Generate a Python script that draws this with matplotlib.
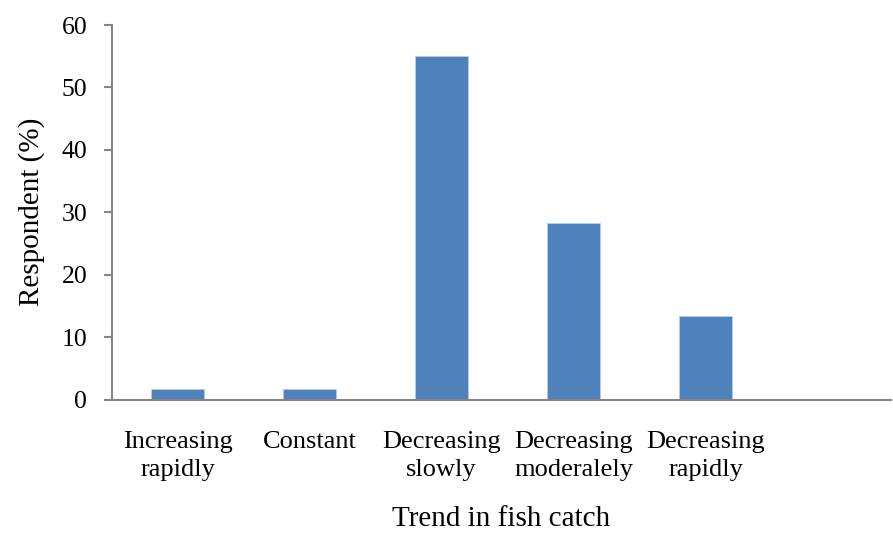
import matplotlib
matplotlib.use("Agg")
import matplotlib.pyplot as plt

categories = ["Increasing\nrapidly", "Constant", "Decreasing\nslowly",
              "Decreasing\nmoderalely", "Decreasing\nrapidly"]
values = [1.7, 1.7, 55.0, 28.3, 13.3]
yticks = [0, 10, 20, 30, 40, 50, 60]

plt.rcParams['font.family'] = ['Liberation Serif', 'DejaVu Serif']

W, H = 893, 534
fig = plt.figure(figsize=(W / 100, H / 100), dpi=100)
ax = fig.add_axes([111.5 / W, 1 - 399.5 / H, (891 - 111.5) / W, (399.5 - 25) / H])

x = list(range(len(categories)))
ax.bar(x, values, width=0.4, color='#4F81BD', edgecolor='#B9CDE5', linewidth=0.6, zorder=2)

ax.set_xlim(-0.5, (891 - 111.5) / 132 - 0.5)
ax.set_ylim(0, 60)
ax.set_yticks(yticks)
ax.set_yticklabels([str(v) for v in yticks], fontsize=18.5)
ax.set_xticks(x)
ax.set_xticklabels(categories, fontsize=19, linespacing=1.3)

for s in ['top', 'right']:
    ax.spines[s].set_visible(False)
for s in ['left', 'bottom']:
    ax.spines[s].set_color('#868686')
    ax.spines[s].set_linewidth(1.5)

ax.tick_params(axis='y', direction='out', length=6, width=1.5, color='#868686', pad=11.5)
ax.tick_params(axis='x', length=0, pad=23)

ax.set_ylabel('Respondent (%)', fontsize=21, labelpad=12)
ax.set_xlabel('Trend in fish catch', fontsize=21, labelpad=18)

fig.savefig('out.png', dpi=100)
